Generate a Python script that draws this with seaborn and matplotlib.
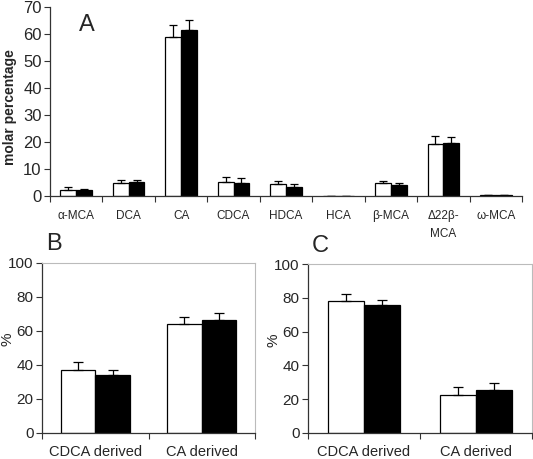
import numpy as np
import pandas as pd
import matplotlib
matplotlib.use("Agg")
import matplotlib.pyplot as plt
import seaborn as sns

# ---- data ----
a_cats = ["α-MCA", "DCA", "CA", "CDCA", "HDCA", "HCA", "β-MCA", "Δ22β-\nMCA", "ω-MCA"]
a_white = [2.2, 4.8, 58.9, 5.2, 4.3, 0.1, 4.8, 19.1, 0.3]
a_white_err = [1.0, 1.3, 4.3, 1.7, 1.3, 0.0, 0.8, 3.3, 0.0]
a_black = [2.3, 5.2, 61.6, 4.8, 3.5, 0.1, 4.0, 19.5, 0.3]
a_black_err = [0.3, 0.9, 3.7, 1.7, 0.9, 0.0, 0.8, 2.2, 0.0]

bc_cats = ["CDCA derived", "CA derived"]
b_white = [36.9, 63.9]
b_white_err = [4.7, 4.5]
b_black = [34.1, 66.5]
b_black_err = [3.2, 3.9]

c_white = [78.3, 22.7]
c_white_err = [3.9, 4.5]
c_black = [75.7, 25.4]
c_black_err = [3.2, 4.0]

groups = ["control", "treated"]

sns.set_theme(style="white")
plt.rcParams["font.family"] = ["Liberation Sans", "DejaVu Sans"]

W, H = 533, 459
fig = plt.figure(figsize=(W / 100, H / 100), dpi=100)


def axes_px(l, t, r, b):
    return fig.add_axes([l / W, 1 - b / H, (r - l) / W, (b - t) / H])


def draw(ax, cats, white, werr, black, berr, width, capsize, ymax, ystep,
         tick_fs, lab_fs, frame, lab_pad):
    df = pd.DataFrame({
        "cat": cats * 2,
        "val": white + black,
        "err": werr + berr,
        "grp": [groups[0]] * len(cats) + [groups[1]] * len(cats),
    })
    sns.barplot(data=df, x="cat", y="val", hue="grp", order=cats,
                hue_order=groups, palette=["white", "black"], width=width,
                edgecolor="black", linewidth=0.9, errorbar=None, ax=ax,
                legend=False, saturation=1)
    # upward-only error bars at bar centers
    for container, g in zip(ax.containers, groups):
        sub = df[df["grp"] == g].set_index("cat").loc[cats]
        xs = [p.get_x() + p.get_width() / 2 for p in container.patches]
        ys = sub["val"].to_numpy()
        es = sub["err"].to_numpy()
        ax.errorbar(xs, ys, yerr=[np.zeros_like(es), es], fmt="none",
                    ecolor="black", elinewidth=0.9, capsize=capsize,
                    capthick=0.9)
    n = len(cats)
    ax.set_xlim(-0.5, n - 0.5)
    ax.set_ylim(0, ymax)
    ax.set_yticks(np.arange(0, ymax + 0.1, ystep))
    ax.set_xticks(range(n))
    ax.set_xticklabels(cats, fontsize=lab_fs, linespacing=1.7)
    ax.set_xticks(np.arange(-0.5, n, 1.0), minor=True)
    ax.tick_params(axis="x", which="major", length=0, pad=lab_pad)
    ax.tick_params(axis="x", which="minor", length=4, width=0.8,
                   direction="out", color="#333333", bottom=True)
    ax.tick_params(axis="y", which="major", length=4, width=0.8,
                   direction="out", labelsize=tick_fs, pad=2, left=True,
                   color="#333333")
    ax.set_xlabel("")
    for s in ["left", "bottom"]:
        ax.spines[s].set_color("#333333")
        ax.spines[s].set_linewidth(0.9)
    if frame:
        for s in ["top", "right"]:
            ax.spines[s].set_visible(True)
            ax.spines[s].set_color("#bbbbbb")
            ax.spines[s].set_linewidth(0.8)
    else:
        for s in ["top", "right"]:
            ax.spines[s].set_visible(False)


# Panel A
axA = axes_px(50, 7, 522, 196)
draw(axA, a_cats, a_white, a_white_err, a_black, a_black_err, 0.6, 2.6,
     70, 10, 12, 8.5, False, 10)
axA.set_ylabel("molar percentage", fontsize=10, fontweight="bold")
axA.yaxis.set_label_coords((17 - 50) / 472, 0.47)
fig.text(87 / W, 1 - 31 / H, "A", fontsize=17, ha="center", va="baseline")

# Panel B
axB = axes_px(42, 263, 255, 433)
draw(axB, bc_cats, b_white, b_white_err, b_black, b_black_err, 0.65, 3.6,
     100, 20, 11, 10.5, True, 9)
axB.set_ylabel("%", fontsize=11)
axB.yaxis.set_label_coords((15 - 42) / 213, 0.55)
fig.text(54 / W, 1 - 250 / H, "B", fontsize=17, ha="center", va="baseline")

# Panel C
axC = axes_px(308, 264, 532, 433)
draw(axC, bc_cats, c_white, c_white_err, c_black, c_black_err, 0.64, 3.6,
     100, 20, 11, 10.5, True, 9)
axC.set_ylabel("%", fontsize=11)
axC.yaxis.set_label_coords((280 - 308) / 224, 0.55)
fig.text(320 / W, 1 - 252 / H, "C", fontsize=17, ha="center", va="baseline")

fig.savefig("out.png", dpi=100)
